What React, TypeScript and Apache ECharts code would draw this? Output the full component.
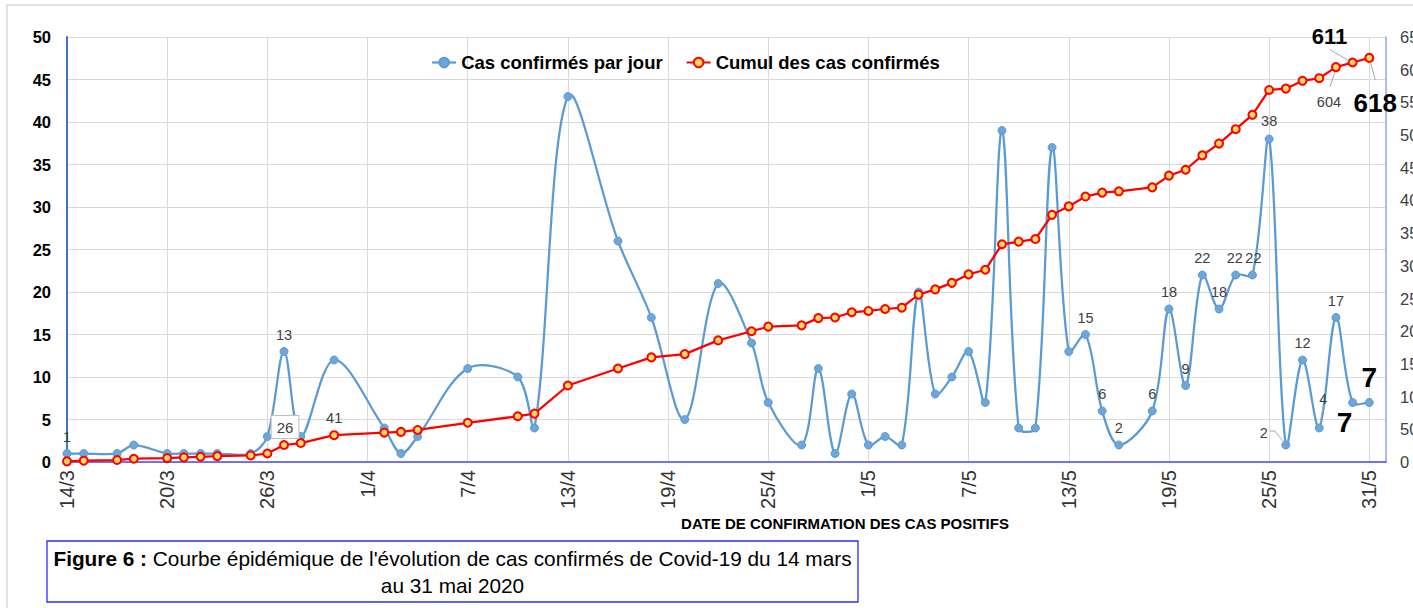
import React, { useEffect, useRef } from 'react';
import * as echarts from 'echarts';

const ARIAL = "'Liberation Sans', Arial, sans-serif";

// Axis categories: every day from 14/3 to 1/6
const axisDays: string[] = [];
for (let d = 14; d <= 31; d++) axisDays.push(`${d}/3`);
for (let d = 1; d <= 30; d++) axisDays.push(`${d}/4`);
for (let d = 1; d <= 31; d++) axisDays.push(`${d}/5`);
axisDays.push('1/6');

// Dates with reported data
const dates = [
  '14/3', '15/3', '17/3', '18/3', '20/3', '21/3', '22/3', '23/3', '25/3', '26/3', '27/3', '28/3', '30/3',
  '2/4', '3/4', '4/4', '7/4', '10/4', '11/4', '13/4', '16/4', '18/4', '20/4', '22/4', '24/4', '25/4', '27/4', '28/4', '29/4', '30/4',
  '1/5', '2/5', '3/5', '4/5', '5/5', '6/5', '7/5', '8/5', '9/5', '10/5', '11/5', '12/5', '13/5', '14/5', '15/5', '16/5',
  '18/5', '19/5', '20/5', '21/5', '22/5', '23/5', '24/5', '25/5', '26/5', '27/5', '28/5', '29/5', '30/5', '31/5',
];

const dailyCases = [
  1, 1, 1, 2, 1, 1, 1, 1, 1, 3, 13, 3, 12,
  4, 1, 3, 11, 10, 4, 43, 26, 17, 5, 21, 14, 7, 2, 11, 1, 8,
  2, 3, 2, 20, 8, 10, 13, 7, 39, 4, 4, 37, 13, 15, 6, 2,
  6, 18, 9, 22, 18, 22, 22, 38, 2, 12, 4, 17, 7, 7,
];

const cumulCases = [
  1, 2, 3, 5, 6, 7, 8, 9, 10, 13, 26, 29, 41,
  45, 46, 49, 60, 70, 74, 117, 143, 160, 165, 186, 200, 207, 209, 220, 221, 229,
  231, 234, 236, 256, 264, 274, 287, 294, 333, 337, 341, 378, 391, 406, 412, 414,
  420, 438, 447, 469, 487, 509, 531, 569, 571, 583, 587, 604, 611, 618,
];

const leftTicks = { min: 0, max: 50, interval: 5 };
const rightTicks = { min: 0, max: 650, interval: 50 };

const seriesNames = ['Cas confirmés par jour', 'Cumul des cas confirmés'];
const xAxisTitle = 'DATE DE CONFIRMATION DES CAS POSITIFS';
const captionBold = 'Figure 6 :';
const captionLine1 = " Courbe épidémique de l'évolution de cas confirmés de Covid-19 du 14 mars";
const captionLine2 = 'au 31 mai 2020';

const BLUE = '#5b9bd5';
const RED = '#ff0000';

// Label styling (offsets from the point, in px)
type LabelCfg = { offset: [number, number]; size?: number; bold?: boolean; box?: boolean };
const dailyLabelCfg: Record<string, LabelCfg> = {
  '14/3': { offset: [0, -17] },
  '27/3': { offset: [0, -17] },
  '14/5': { offset: [0, -17] },
  '15/5': { offset: [0, -17] },
  '16/5': { offset: [0, -17] },
  '18/5': { offset: [0, -17] },
  '19/5': { offset: [0, -17] },
  '20/5': { offset: [0, -17] },
  '21/5': { offset: [0, -17] },
  '22/5': { offset: [0, -17] },
  '23/5': { offset: [-1, -17] },
  '24/5': { offset: [1, -17] },
  '25/5': { offset: [0, -18] },
  '26/5': { offset: [-22, -12] },
  '27/5': { offset: [0, -17] },
  '28/5': { offset: [4, -29] },
  '29/5': { offset: [0, -17] },
  '30/5': { offset: [-8, 20], size: 28, bold: true },
  '31/5': { offset: [0, -25], size: 28, bold: true },
};
const cumulLabelCfg: Record<string, LabelCfg> = {
  '27/3': { offset: [1, -18], box: true },
  '30/3': { offset: [0, -17] },
  '29/5': { offset: [-7, 35] },
  '30/5': { offset: [-23, -26], size: 22, bold: true },
  '31/5': { offset: [6, 45], size: 26, bold: true },
};

// Leader lines: [seriesIndex, date, points relative to the data point]
const leaders: [number, string, [number, number][]][] = [
  [0, '26/5', [[-16, -14], [-11, -14], [-3, -4]]],
  [0, '28/5', [[4, -22], [1, -5]]],
  [1, '29/5', [[-6, 20], [-1, 5]]],
  [1, '30/5', [[-23, -13], [-4, -2]]],
  [1, '31/5', [[1, 4], [6, 22]]],
];

function buildData(values: number[], cfg: Record<string, LabelCfg>) {
  return dates.map((d, i) => {
    const c = cfg[d];
    const item: any = { value: [d, values[i]] };
    if (c) {
      item.label = {
        show: true,
        position: 'inside',
        offset: c.offset,
        formatter: String(values[i]),
        fontFamily: ARIAL,
        fontSize: c.size ?? (c.box ? 15 : 14.5),
        fontWeight: c.bold ? 'bold' : 'normal',
        color: c.bold ? '#000' : '#404040',
        ...(c.box
          ? { backgroundColor: '#fff', borderColor: '#bfbfbf', borderWidth: 1, padding: [4, 5, 3, 5] }
          : {}),
      };
    }
    return item;
  });
}

// Excel-like smoothed curve (length-weighted Bezier) drawn through the library's coordinates
function renderSmooth(params: any, api: any) {
  if (params.dataIndex !== 0) return null;
  const pts = dates.map((d, i) => api.coord([axisDays.indexOf(d), dailyCases[i]]) as number[]);
  const n = pts.length;
  const dist = (a: number[], b: number[]) => Math.hypot(a[0] - b[0], a[1] - b[1]);
  const s = 1 / 3;
  let p = `M${pts[0][0]},${pts[0][1]}`;
  for (let i = 0; i < n - 1; i++) {
    const p0 = pts[Math.max(0, i - 1)];
    const p1 = pts[i];
    const p2 = pts[i + 1];
    const p3 = pts[Math.min(n - 1, i + 2)];
    const l01 = dist(p0, p1);
    const l12 = dist(p1, p2);
    const l23 = dist(p2, p3);
    const r1 = l01 + l12 > 0 ? l12 / (l01 + l12) : 0;
    const r2 = l12 + l23 > 0 ? l12 / (l12 + l23) : 0;
    const c1x = p1[0] + (p2[0] - p0[0]) * s * r1;
    const c1y = p1[1] + (p2[1] - p0[1]) * s * r1;
    const c2x = p2[0] - (p3[0] - p1[0]) * s * r2;
    const c2y = p2[1] - (p3[1] - p1[1]) * s * r2;
    p += ` C${c1x},${c1y} ${c2x},${c2y} ${p2[0]},${p2[1]}`;
  }
  return {
    type: 'path',
    shape: { pathData: p },
    style: { stroke: BLUE, lineWidth: 2.25, fill: 'none', lineJoin: 'round' },
    z2: 1,
  };
}

export default function App() {
  const ref = useRef<HTMLDivElement>(null);
  useEffect(() => {
    document.body.style.margin = '0';
    if (!ref.current) return;
    const chart = echarts.init(ref.current, undefined, { renderer: 'svg' });
    const option: any = {
      animation: false,
      backgroundColor: '#fff',
      grid: { left: 67, right: 27, top: 37, bottom: 146, containLabel: false, outerBoundsMode: 'none' },
      legend: {
        left: 426,
        top: 48,
        itemWidth: 24,
        itemHeight: 12,
        itemGap: 23,
        textStyle: { fontFamily: ARIAL, fontSize: 18.5, fontWeight: 'bold', color: '#000' },
        data: [
          { name: seriesNames[0], lineStyle: { color: BLUE, width: 2.25, opacity: 1 } },
          { name: seriesNames[1] },
        ],
      },
      xAxis: {
        type: 'category',
        data: axisDays,
        boundaryGap: false,
        axisLine: { show: true, lineStyle: { color: '#4b4bf2', width: 1.5 } },
        axisTick: { show: false },
        axisLabel: {
          interval: 5,
          rotate: 90,
          margin: 8,
          fontFamily: ARIAL,
          fontSize: 20,
          color: '#333',
        },
        splitLine: { show: true, interval: 5, lineStyle: { color: '#d9d9d9', width: 1 } },
      },
      yAxis: [
        {
          type: 'value',
          ...leftTicks,
          axisLine: { show: true, lineStyle: { color: '#4472c4', width: 2 } },
          axisTick: { show: false },
          axisLabel: { margin: 16, fontFamily: ARIAL, fontSize: 16.5, fontWeight: 'bold', color: '#000' },
          splitLine: { show: true, lineStyle: { color: '#d9d9d9', width: 1 } },
        },
        {
          type: 'value',
          ...rightTicks,
          position: 'right',
          axisLine: { show: true, lineStyle: { color: '#8eaadb', width: 1.5 } },
          axisTick: { show: false },
          axisLabel: { margin: 14, fontFamily: ARIAL, fontSize: 16.5, color: '#404040' },
          splitLine: { show: false },
        },
      ],
      series: [
        {
          name: 'smooth-daily',
          type: 'custom',
          yAxisIndex: 0,
          renderItem: renderSmooth,
          encode: { x: 0, y: 1 },
          data: dates.map((d, i) => [d, dailyCases[i]]),
          clip: false,
          z: 2,
          silent: true,
        },
        {
          name: seriesNames[0],
          type: 'line',
          yAxisIndex: 0,
          smooth: false,
          symbol: 'circle',
          symbolSize: 8,
          lineStyle: { color: BLUE, width: 2.25, opacity: 0 },
          itemStyle: { color: '#6fa6da', borderColor: BLUE, borderWidth: 1 },
          data: buildData(dailyCases, dailyLabelCfg),
          z: 3,
        },
        {
          name: seriesNames[1],
          type: 'line',
          yAxisIndex: 1,
          smooth: false,
          symbol: 'circle',
          symbolSize: 8,
          lineStyle: { color: RED, width: 2.25 },
          itemStyle: { color: '#ffd966', borderColor: RED, borderWidth: 2 },
          data: buildData(cumulCases, cumulLabelCfg),
          z: 4,
        },
      ],
    };
    chart.setOption(option);

    const seriesVals = [dailyCases, cumulCases];
    const leaderGraphics = leaders.map(([si, d, pts]) => {
      const idx = dates.indexOf(d);
      const p = chart.convertToPixel(
        { xAxisIndex: 0, yAxisIndex: si } as any,
        [axisDays.indexOf(d), seriesVals[si][idx]]
      ) as number[];
      return {
        type: 'polyline',
        shape: { points: pts.map(([dx, dy]) => [p[0] + dx, p[1] + dy]) },
        style: { stroke: '#a6a6a6', lineWidth: 1, fill: 'none' },
        z: 10,
      };
    });

    chart.setOption({
      graphic: [
        {
          type: 'rect',
          shape: { x: 7, y: 5, width: 1430, height: 640 },
          style: { fill: 'none', stroke: '#d9d9d9', lineWidth: 1.5 },
          silent: true,
          z: -1,
        },
        ...leaderGraphics,
        {
          type: 'text',
          x: 845,
          y: 523,
          style: {
            text: xAxisTitle,
            fontFamily: ARIAL,
            fontSize: 15,
            fontWeight: 'bold',
            fill: '#000',
            align: 'center',
            verticalAlign: 'middle',
          },
        },
        {
          type: 'rect',
          shape: { x: 47, y: 541, width: 811, height: 61 },
          style: { fill: '#fff', stroke: '#2b2bff', lineWidth: 1.3 },
        },
        {
          type: 'text',
          x: 452.5,
          y: 572,
          style: {
            text: `{b|${captionBold}}{n|${captionLine1}}\n{n|${captionLine2}}`,
            align: 'center',
            verticalAlign: 'middle',
            lineHeight: 27,
            rich: {
              b: { fontFamily: ARIAL, fontSize: 20.8, fontWeight: 'bold', fill: '#000', lineHeight: 27 },
              n: { fontFamily: ARIAL, fontSize: 20.8, fill: '#000', lineHeight: 27 },
            },
          },
        },
      ],
    });

    return () => chart.dispose();
  }, []);
  return <div ref={ref} style={{ width: 1413, height: 608 }} />;
}
